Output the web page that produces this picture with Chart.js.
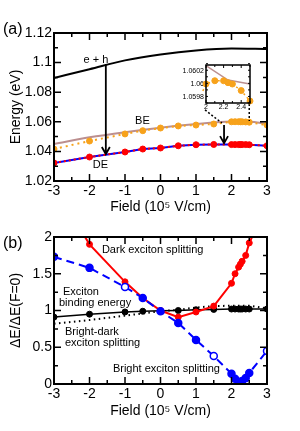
<!DOCTYPE html>
<html lang="en">
<head>
<meta charset="UTF-8">
<title>Exciton energies and splittings vs field</title>
<script src="https://cdn.jsdelivr.net/npm/chart.js"></script>
<style>
  body { margin: 0; background: #fff; }
  #wrap { position: relative; width: 300px; height: 431px; }
  canvas { position: absolute; }
</style>
</head>
<body>
<div id="wrap">
  <canvas id="chartA" width="300" height="218" style="left:0;top:0"></canvas>
  <canvas id="chartB" width="300" height="216" style="left:0;top:215px"></canvas>
  <canvas id="inset" width="104" height="56" style="left:156px;top:58px"></canvas>
</div>
<script>
// ---- data ----
// panel (a): energies in eV
const field = [-3, -2, -1, -0.5, 0, 0.5, 1, 1.5, 2, 2.1, 2.2, 2.25, 2.3, 2.4, 2.5, 3];
const deEnergy = [1.0322, 1.0362, 1.0396, 1.0416, 1.0423, 1.0438, 1.0445, 1.0447, 1.0446, 1.0446, 1.0446, 1.0446, 1.0446, 1.0446, 1.0445, 1.0438];
const beEnergy = [1.0416, 1.047, 1.0518, 1.054, 1.0558, 1.0572, 1.0578, 1.0585, 1.06, 1.06005, 1.06005, 1.06002, 1.06, 1.0599, 1.05974, 1.0578];
const ehField = [-3, -2, -1, 0, 1, 2, 3];
const ehEnergy = [1.0896, 1.0955, 1.1015, 1.1055, 1.1082, 1.1095, 1.1092];
const beLineField = [-3, -2, -1, 0, 1, 2, 2.25, 2.5, 3];
const beLineEnergy = [1.045, 1.0495, 1.053, 1.056, 1.0585, 1.06028, 1.06006, 1.06, 1.0588];

// panel (b): splittings normalised to F = 0
const darkSplit = [2.7, 1.9, 1.39, 1.17, 1.0, 0.91, 0.98, 1.06, 1.37, 1.5, 1.59, 1.63, 1.67, 1.75, 1.92, 2.42];
const brightSplit = [1.73, 1.58, 1.32, 1.17, 0.99, 0.83, 0.6, 0.38, 0.14, 0.07, 0.03, 0.01, 0.04, 0.08, 0.15, 0.45];
const brightOpen = [-1, 1.5, 3];
const bindingEnergy = [0.91, 0.95, 0.98, 0.99, 0.995, 1.0, 1.01, 1.015, 1.02, 1.02, 1.02, 1.02, 1.02, 1.02, 1.02, 1.02];
const bdField = [-3, -2, -1, 0, 0.5, 1, 1.5, 2, 2.5, 3];
const bdSplit = [0.82, 0.87, 0.93, 0.99, 1.01, 1.04, 1.06, 1.065, 1.065, 1.03];

const xTicks = [-3, -2, -1, 0, 1, 2, 3];
const insetXTicks = [2, 2.2, 2.4];
const insetYTicks = [1.0598, 1.06, 1.0602];

const pts = (xs, ys) => xs.map((x, i) => ({x: x, y: ys[i]}));

Chart.defaults.font.family = "'Liberation Sans', Arial, sans-serif";
Chart.defaults.color = '#000';
Chart.defaults.animation = false;

// inward ticks on all four sides plus the box
const framePlugin = {
  id: 'frame',
  afterDatasetsDraw(chart, args, o) {
    const {ctx, chartArea: a, scales: {x, y}} = chart;
    const walk = (scale, step, major, draw) => {
      const n = Math.round((scale.max - scale.min) / step);
      for (let i = 0; i <= n; i++) {
        const v = scale.min + i * step;
        const isMajor = Math.abs(v / major - Math.round(v / major)) < 1e-6;
        draw(scale.getPixelForValue(v), isMajor ? o.len : o.minorLen);
      }
    };
    ctx.save();
    ctx.strokeStyle = '#000';
    ctx.lineWidth = o.tickWidth;
    ctx.beginPath();
    walk(x, o.xMinor, o.xMajor, (p, l) => {
      ctx.moveTo(p, a.bottom); ctx.lineTo(p, a.bottom - l);
      ctx.moveTo(p, a.top); ctx.lineTo(p, a.top + l);
    });
    walk(y, o.yMinor, o.yMajor, (p, l) => {
      ctx.moveTo(a.left, p); ctx.lineTo(a.left + l, p);
      ctx.moveTo(a.right, p); ctx.lineTo(a.right - l, p);
    });
    ctx.stroke();
    ctx.lineWidth = o.lineWidth;
    ctx.strokeRect(a.left, a.top, a.right - a.left, a.bottom - a.top);
    ctx.restore();
  }
};

// text labels, arrows and dotted guides in data coordinates
const notesPlugin = {
  id: 'notes',
  afterDatasetsDraw(chart, args, o) {
    const {ctx, scales: {x, y}} = chart;
    const px = v => x.getPixelForValue(v), py = v => y.getPixelForValue(v);
    ctx.save();
    ctx.strokeStyle = '#000';
    ctx.fillStyle = '#000';
    (o.guides || []).forEach(g => {
      ctx.setLineDash([2, 2]);
      ctx.lineWidth = 1.5;
      ctx.beginPath();
      ctx.moveTo(px(g[0]), py(g[1]));
      ctx.lineTo(px(g[2]), py(g[3]));
      ctx.stroke();
    });
    ctx.setLineDash([]);
    (o.arrows || []).forEach(g => {
      const xp = px(g[0]), y0 = py(g[1]), y1 = py(g[2]);
      ctx.lineWidth = 1.8;
      ctx.beginPath();
      ctx.moveTo(xp, y0); ctx.lineTo(xp, y1);
      ctx.moveTo(xp - 4, y1 - 7); ctx.lineTo(xp, y1); ctx.lineTo(xp + 4, y1 - 7);
      ctx.stroke();
    });
    ctx.textBaseline = 'middle';
    (o.labels || []).forEach(t => {
      ctx.font = t.size + "px 'Liberation Sans', Arial, sans-serif";
      ctx.textAlign = t.align || 'center';
      ctx.fillText(t.text, px(t.x), py(t.y));
    });
    if (o.tag) {
      ctx.font = "16px 'Liberation Sans', Arial, sans-serif";
      ctx.textAlign = 'left';
      ctx.fillText(o.tag.text, o.tag.left, o.tag.mid);
    }
    ctx.restore();
  }
};

const tickFont = {size: 14};
const xAxis = (height, titlePad) => ({
  type: 'linear', min: -3, max: 3,
  afterFit: s => { s.height = height; },
  afterBuildTicks: s => { s.ticks = xTicks.map(v => ({value: v})); },
  grid: {display: false, drawTicks: false},
  border: {display: false},
  ticks: {font: tickFont, padding: 2, maxRotation: 0, autoSkip: false, callback: v => String(v)},
  title: {display: true, text: 'Field (10\u2075 V/cm)', font: {size: 14}, padding: {top: 0, bottom: titlePad}}
});

// ---- panel (a) ----
new Chart(document.getElementById('chartA'), {
  type: 'line',
  data: {
    datasets: [
      {data: pts(field, deEnergy), borderColor: '#ff0000', borderWidth: 2, borderDash: [2, 3],
       pointRadius: 3, pointBackgroundColor: '#ff0000', pointBorderColor: '#ff0000', pointBorderWidth: 1},
      {data: pts(field, deEnergy), borderColor: '#0000ff', borderWidth: 2, pointRadius: 0},
      {data: pts(field, beEnergy), borderColor: '#f7a21b', borderWidth: 2, borderDash: [2, 4],
       pointRadius: 3, pointBackgroundColor: '#f7a21b', pointBorderColor: '#f7a21b', pointBorderWidth: 1},
      {data: pts(beLineField, beLineEnergy), borderColor: '#bc8f8f', borderWidth: 2, pointRadius: 0, cubicInterpolationMode: 'monotone'},
      {data: pts(ehField, ehEnergy), borderColor: '#000', borderWidth: 2, pointRadius: 0, cubicInterpolationMode: 'monotone'}
    ]
  },
  options: {
    responsive: false,
    layout: {padding: {left: 0, right: 33, top: 33, bottom: 0}},
    plugins: {
      legend: {display: false}, tooltip: {enabled: false},
      frame: {xMajor: 1, xMinor: 0.5, yMajor: 0.02, yMinor: 0.01, len: 7, minorLen: 4, tickWidth: 1.5, lineWidth: 2},
      notes: {
        guides: [[1.254, 1.068, 1.73, 1.0592], [2.5, 1.072, 2.5, 1.0605]],
        arrows: [[-1.54, 1.099, 1.0382], [1.79, 1.0578, 1.0456]],
        labels: [
          {text: 'e + h', x: -1.82, y: 1.1018, size: 11},
          {text: 'BE', x: -0.51, y: 1.0605, size: 11},
          {text: 'DE', x: -1.69, y: 1.0311, size: 11}
        ],
        tag: {text: '(a)', left: 3, mid: 30}
      }
    },
    scales: {
      x: xAxis(37, 2),
      y: {
        type: 'linear', min: 1.02, max: 1.12,
        afterFit: s => { s.width = 54; },
        grid: {display: false, drawTicks: false},
        border: {display: false},
        ticks: {font: tickFont, padding: 2, stepSize: 0.02, callback: v => String(Number(v.toFixed(2)))},
        title: {display: true, text: 'Energy (eV)', font: {size: 14}, padding: {top: 8, bottom: 0}}
      }
    }
  },
  plugins: [framePlugin, notesPlugin]
});

// ---- inset ----
new Chart(document.getElementById('inset'), {
  type: 'line',
  data: {
    datasets: [
      {data: pts(field, beEnergy), borderColor: '#f7a21b', borderWidth: 1.5, borderDash: [2, 3], clip: 4,
       pointRadius: 3, pointBackgroundColor: '#f7a21b', pointBorderColor: '#f7a21b', pointBorderWidth: 1},
      {data: pts(beLineField, beLineEnergy), borderColor: '#bc8f8f', borderWidth: 1.5, pointRadius: 0}
    ]
  },
  options: {
    responsive: false,
    layout: {padding: {left: 0, right: 10, top: 7, bottom: 0}},
    plugins: {
      legend: {display: false}, tooltip: {enabled: false},
      frame: {xMajor: 0.2, xMinor: 0.1, yMajor: 0.0002, yMinor: 0.0001, len: 3, minorLen: 2, tickWidth: 1, lineWidth: 1.5}
    },
    scales: {
      x: {
        type: 'linear', min: 2, max: 2.5,
        afterFit: s => { s.height = 11; },
        afterBuildTicks: s => { s.ticks = insetXTicks.map(v => ({value: v})); },
        grid: {display: false, drawTicks: false}, border: {display: false},
        ticks: {font: {size: 7}, padding: 0, maxRotation: 0, autoSkip: false, callback: v => String(v)}
      },
      y: {
        type: 'linear', min: 1.05971, max: 1.06029,
        afterFit: s => { s.width = 50; },
        afterBuildTicks: s => { s.ticks = insetYTicks.map(v => ({value: v})); },
        grid: {display: false, drawTicks: false}, border: {display: false},
        ticks: {font: {size: 7}, padding: 2, autoSkip: false, callback: v => String(Number(v.toFixed(4)))}
      }
    }
  },
  plugins: [framePlugin]
});

// ---- panel (b) ----
new Chart(document.getElementById('chartB'), {
  type: 'line',
  data: {
    datasets: [
      {data: pts(field, brightSplit), borderColor: '#0000ff', borderWidth: 2, borderDash: [8, 5],
       pointRadius: 3.5, pointBorderColor: '#0000ff', pointBorderWidth: 1.5,
       pointBackgroundColor: field.map(f => brightOpen.includes(f) ? '#ffffff' : '#0000ff')},
      {data: pts(field, darkSplit), borderColor: '#ff0000', borderWidth: 2,
       pointRadius: 3, pointBackgroundColor: '#ff0000', pointBorderColor: '#ff0000', pointBorderWidth: 1},
      {data: pts(field, bindingEnergy), borderColor: '#000', borderWidth: 1.5,
       pointRadius: 3, pointBackgroundColor: '#000', pointBorderColor: '#000', pointBorderWidth: 1},
      {data: pts(bdField, bdSplit), borderColor: '#000', borderWidth: 2, borderDash: [1.5, 3.5], pointRadius: 0}
    ]
  },
  options: {
    responsive: false,
    layout: {padding: {left: 0, right: 33, top: 22, bottom: 0}},
    plugins: {
      legend: {display: false}, tooltip: {enabled: false},
      frame: {xMajor: 1, xMinor: 0.5, yMajor: 0.5, yMinor: 0.25, len: 7, minorLen: 4, tickWidth: 1.5, lineWidth: 2},
      notes: {
        labels: [
          {text: 'Dark exciton splitting', x: -1.65, y: 1.823, size: 11, align: 'left'},
          {text: 'Exciton', x: -2.75, y: 1.252, size: 11, align: 'left'},
          {text: 'binding energy', x: -2.86, y: 1.106, size: 11, align: 'left'},
          {text: 'Bright-dark', x: -2.69, y: 0.712, size: 11, align: 'left'},
          {text: 'exciton splitting', x: -2.69, y: 0.562, size: 11, align: 'left'},
          {text: 'Bright exciton splitting', x: -1.34, y: 0.2, size: 11, align: 'left'}
        ],
        tag: {text: '(b)', left: 3, mid: 29}
      }
    },
    scales: {
      x: xAxis(47, 11),
      y: {
        type: 'linear', min: 0, max: 2,
        afterFit: s => { s.width = 54; },
        grid: {display: false, drawTicks: false},
        border: {display: false},
        ticks: {font: tickFont, padding: 2, stepSize: 0.5, callback: v => String(v)},
        title: {display: true, text: '\u0394E/\u0394E(F=0)', font: {size: 14}, padding: {top: 8, bottom: 0}}
      }
    }
  },
  plugins: [framePlugin, notesPlugin]
});
</script>
</body>
</html>
